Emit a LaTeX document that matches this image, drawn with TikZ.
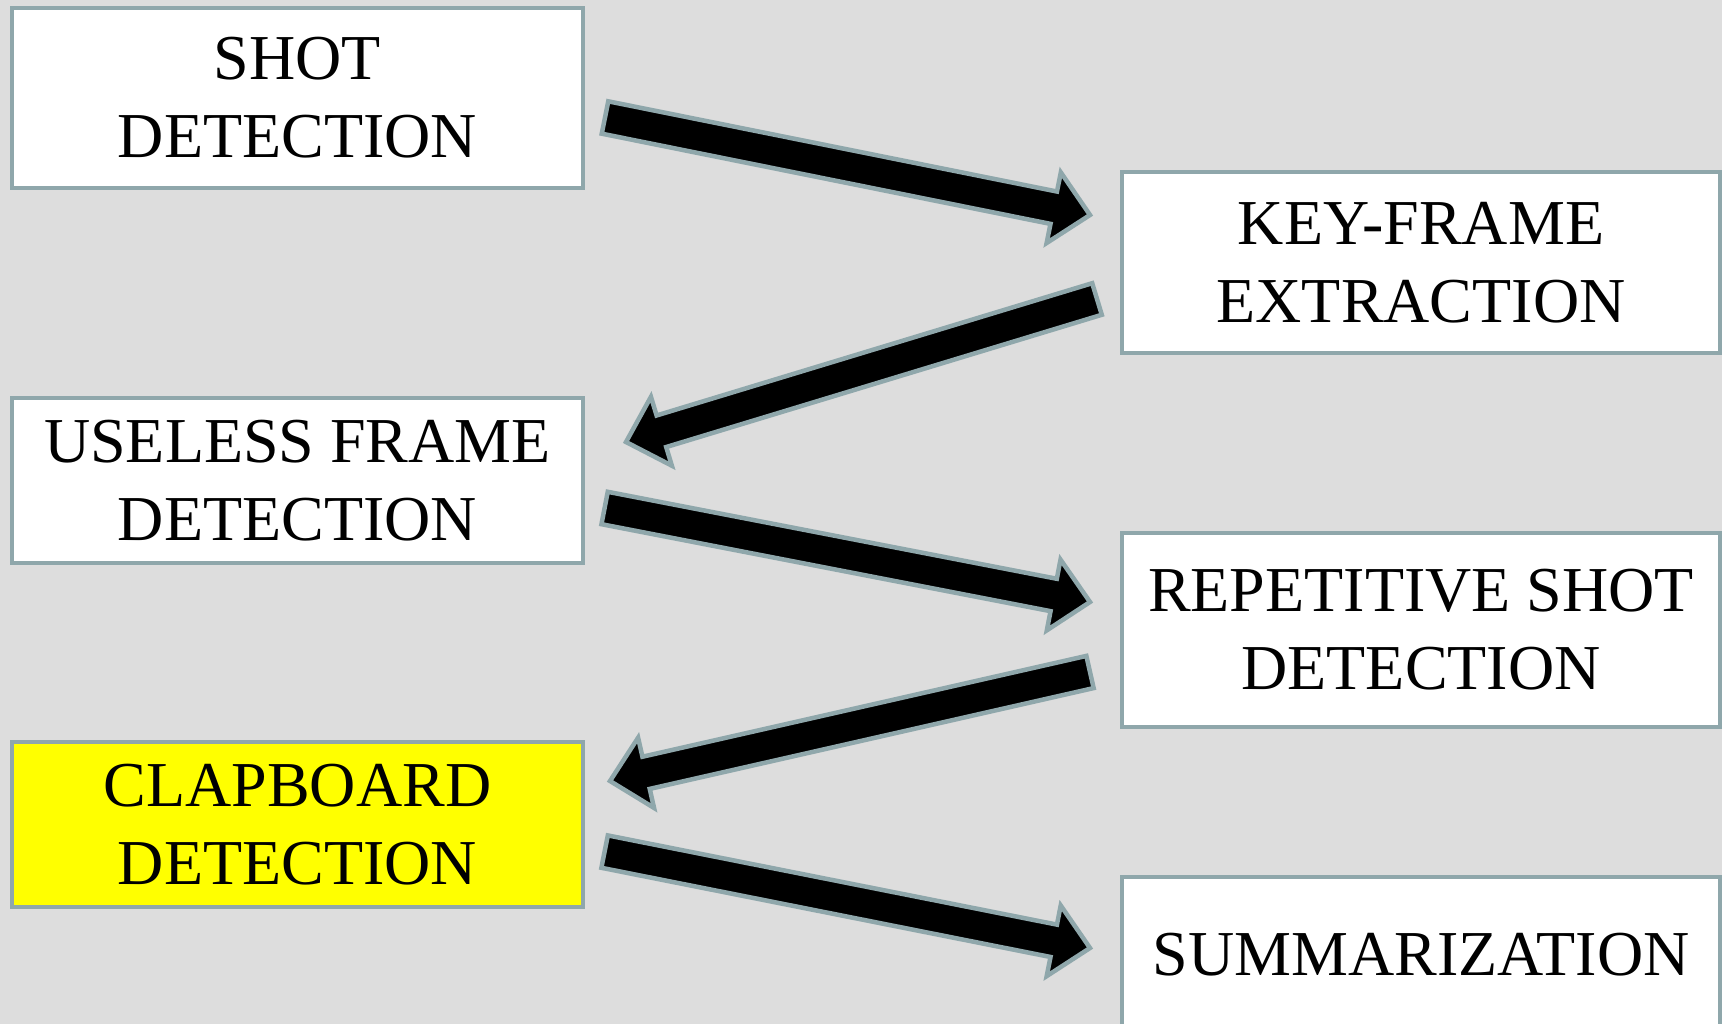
\documentclass[tikz,border=0pt]{standalone}
\usepackage{fontspec}
\setmainfont{Liberation Serif}
\usetikzlibrary{calc}
\definecolor{bgc}{HTML}{DDDDDD}
\definecolor{edgec}{HTML}{8FA7AB}
\definecolor{clapc}{HTML}{FFFF00}
\tikzset{
  stagebox/.style={draw=edgec, line width=4pt, fill=white, rectangle, align=center,
    inner sep=0pt, font=\fontsize{64}{78}\selectfont, text=black},
  blockarrowstyle/.style={draw=edgec, fill=black, line width=4.5pt, line join=miter}
}
\newcommand\blockarrow[2]{%
  \coordinate (#1#2h) at ($(#2)!37pt!(#1)$);
  \draw[blockarrowstyle]
    ($(#1)!16.5pt!90:(#2)$) -- ($(#1#2h)!16.5pt!-90:(#1)$) -- ($(#1#2h)!36pt!-90:(#1)$)
    -- (#2) -- ($(#1#2h)!36pt!90:(#1)$) -- ($(#1#2h)!16.5pt!90:(#1)$)
    -- ($(#1)!16.5pt!-90:(#2)$) -- cycle;
}
\begin{document}
\begin{tikzpicture}[x=1pt,y=-1pt]
\useasboundingbox (0,0) rectangle (1722,1024);
\clip (0,0) rectangle (1722,1024);
\fill[bgc] (0,0) rectangle (1722,1024);

\node[stagebox, minimum width=571pt, minimum height=180pt] (shot) at (297.5,98) {SHOT\\DETECTION};
\node[stagebox, minimum width=598pt, minimum height=181pt] (key) at (1421,262.5) {KEY-FRAME\\EXTRACTION};
\node[stagebox, minimum width=571pt, minimum height=165pt] (useless) at (297.5,480.5) {USELESS FRAME\\DETECTION};
\node[stagebox, minimum width=598pt, minimum height=194pt] (rep) at (1421,630) {REPETITIVE SHOT\\DETECTION};
\node[stagebox, fill=clapc, minimum width=571pt, minimum height=165pt] (clap) at (297.5,824.5) {CLAPBOARD\\DETECTION};
\node[stagebox, minimum width=598pt, minimum height=156pt] (summ) at (1421,955) {SUMMARIZATION};

\coordinate (a1s) at (605,117.5);  \coordinate (a1e) at (1090,215);
\coordinate (a2s) at (1097,299);   \coordinate (a2e) at (626,442);
\coordinate (a3s) at (604.6,508);  \coordinate (a3e) at (1090,602);
\coordinate (a4s) at (1090,672);   \coordinate (a4e) at (610,781);
\coordinate (a5s) at (604.6,851.6);\coordinate (a5e) at (1090,948);

\blockarrow{a1s}{a1e}
\blockarrow{a2s}{a2e}
\blockarrow{a3s}{a3e}
\blockarrow{a4s}{a4e}
\blockarrow{a5s}{a5e}
\end{tikzpicture}
\end{document}
